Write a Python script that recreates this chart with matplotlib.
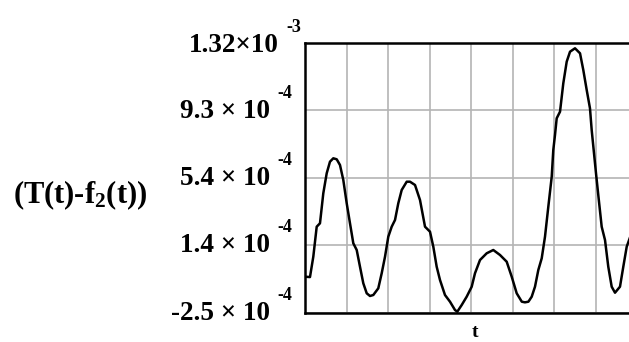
import matplotlib
matplotlib.use("Agg")
import matplotlib.pyplot as plt
import matplotlib.transforms as mtransforms
import numpy as np

# data (t in grid units, value in units of 1e-4)
t = [0.0, 0.12, 0.20, 0.282, 0.361, 0.441, 0.523, 0.602, 0.682, 0.764, 0.843, 0.923,
     1.005, 1.084, 1.164, 1.246, 1.325, 1.405, 1.487, 1.566, 1.646, 1.766, 1.848, 1.928,
     2.007, 2.089, 2.169, 2.248, 2.330, 2.451, 2.530, 2.651, 2.771, 2.892, 3.012, 3.092,
     3.173, 3.253, 3.373, 3.494, 3.614, 3.670, 3.776, 3.896, 4.017, 4.096, 4.217, 4.378,
     4.537, 4.699, 4.860, 4.981, 5.101, 5.224, 5.300, 5.383, 5.463, 5.542, 5.622, 5.704,
     5.783, 5.863, 5.945, 5.983, 6.024, 6.065, 6.145, 6.224, 6.306, 6.386, 6.506, 6.627,
     6.706, 6.788, 6.867, 6.908, 7.012, 7.067, 7.149, 7.229, 7.308, 7.390, 7.470, 7.590,
     7.670, 7.752, 7.824]
v = [-0.39, -0.41, 0.774, 2.518, 2.716, 4.461, 5.624, 6.298, 6.496, 6.438, 6.106, 5.234,
     3.879, 2.716, 1.553, 1.163, 0.192, -0.773, -1.354, -1.511, -1.453, -1.064, -0.191, 0.774,
     1.937, 2.518, 2.908, 3.879, 4.652, 5.135, 5.135, 4.943, 4.071, 2.518, 2.228, 1.355,
     0.192, -0.581, -1.453, -1.843, -2.326, -2.424, -2.035, -1.552, -0.971, -0.191, 0.582, 0.972,
     1.163, 0.873, 0.483, -0.389, -1.354, -1.843, -1.88, -1.843, -1.552, -0.971, 0.0, 0.681,
     1.937, 3.681, 5.426, 6.978, 7.851, 8.822, 9.206, 10.857, 12.113, 12.694, 12.892, 12.601,
     11.630, 10.467, 9.403, 8.141, 5.624, 4.362, 2.518, 1.745, 0.192, -0.971, -1.320, -0.971,
     0.192, 1.355, 1.844]
scale = 1e-4

ytick_vals = [-2.5e-4, 1.425e-4, 5.35e-4, 9.275e-4, 1.32e-3]
ytick_mantissa = ["-2.5 \u00d7 10", "1.4 \u00d7 10", "5.4 \u00d7 10", "9.3 \u00d7 10", "1.32\u00d710"]
ytick_exponent = ["-4", "-4", "-4", "-4", "-3"]
xgrid = [1, 2, 3, 4, 5, 6, 7]
ylabel_text = "(T(t)-f$_\\mathbf{2}$(t))"
xlabel_text = "t"

plt.rcParams['font.family'] = ['Liberation Serif', 'DejaVu Serif']
plt.rcParams['font.weight'] = 'bold'
plt.rcParams['mathtext.fontset'] = 'custom'
plt.rcParams['mathtext.rm'] = 'Liberation Serif:bold'
plt.rcParams['mathtext.bf'] = 'Liberation Serif:bold'
plt.rcParams['mathtext.default'] = 'bf'

W, H = 629, 342
fig = plt.figure(figsize=(W / 100, H / 100), dpi=100)
ax = fig.add_axes([305 / W, (H - 313) / H, 332 / W, 270 / H])

ax.plot(t, np.array(v) * scale, color='black', lw=1.8)
ax.set_xlim(0, 8)
ax.set_ylim(-2.5e-4, 1.32e-3)

ax.set_xticks(xgrid)
ax.set_xticklabels([])
ax.set_yticks(ytick_vals)
ax.set_yticklabels([])
ax.tick_params(axis='both', length=0)
ax.grid(True, color='#b4b4b4', lw=1.2)
ax.set_axisbelow(True)
for s in ['left', 'top', 'bottom']:
    ax.spines[s].set_linewidth(1.8)
ax.spines['right'].set_visible(False)

# tick labels drawn as text (mantissa + raised exponent)
blend = mtransforms.blended_transform_factory(fig.transFigure, ax.transData)
for i, (val, man, ex) in enumerate(zip(ytick_vals, ytick_mantissa, ytick_exponent)):
    top = (i == len(ytick_vals) - 1)
    x_end = 279 if top else 270
    dy = -9 if top else -7
    tr_main = mtransforms.offset_copy(blend, fig=fig, y=dy, units='dots')
    tr_sup = mtransforms.offset_copy(blend, fig=fig, y=dy + 20, units='dots')
    ax.text(x_end / W, val, man, transform=tr_main, ha='right', va='baseline',
            fontsize=19.5, fontweight='bold', clip_on=False)
    ax.text((x_end + 7) / W, val, ex, transform=tr_sup, ha='left', va='baseline',
            fontsize=13, fontweight='bold', clip_on=False)

fig.text(13 / W, 1 - 203 / H, ylabel_text, fontsize=22, fontweight='bold',
         ha='left', va='baseline')
fig.text(475 / W, 1 - 337 / H, xlabel_text, fontsize=14, fontweight='bold',
         ha='center', va='baseline')

fig.savefig("out.png", dpi=100)
